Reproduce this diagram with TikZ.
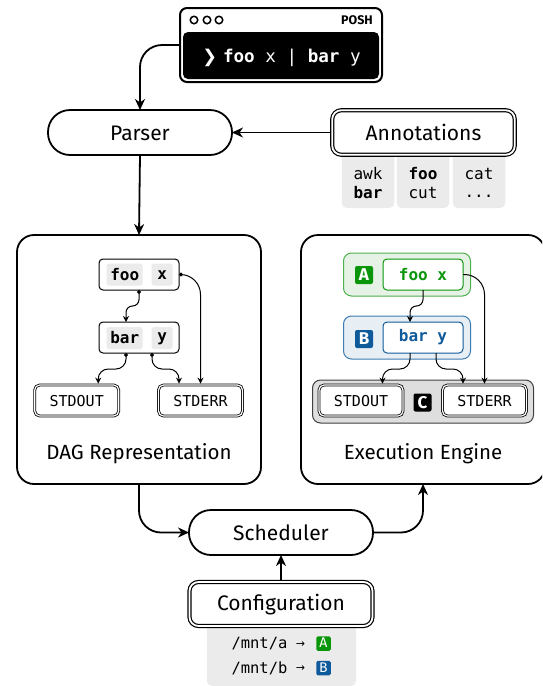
\documentclass[tikz,border=0pt]{standalone}
\usepackage{fontspec}
\setmainfont{Fira Sans}
\newfontfamily\mono{DejaVu Sans Mono}
\newfontfamily\djv{DejaVu Sans}
\usetikzlibrary{arrows.meta}
\definecolor{grn}{HTML}{0A960A}
\definecolor{grnbg}{HTML}{E6F2E6}
\definecolor{grnln}{HTML}{4DB04D}
\definecolor{blu}{HTML}{0F5A9A}
\definecolor{blubg}{HTML}{E7EEF4}
\definecolor{bluln}{HTML}{3F7DB0}
\definecolor{cell}{HTML}{EBEBEB}
\definecolor{groupc}{HTML}{DEDEDE}
\newcommand{\fs}[1]{\fontsize{#1}{#1}\selectfont}
\tikzset{
  x=1pt,y=-1pt,
  inset/.style={inner sep=0pt,outer sep=0pt,align=center},
  base/.style={inset,execute at begin node={\rule{0pt}{.82em}}},
  capbase/.style={inset,execute at begin node={\rule[-.06em]{0pt}{.74em}}},
  pill/.style={base,draw,line width=1.8pt,rounded corners=22pt,fill=white,font=\fs{21}},
  dbl/.style={base,draw,double,line width=1.2pt,double distance=1.8pt,rounded corners=9pt,fill=white,font=\fs{21},outer sep=2.1pt},
  dblsm/.style={base,draw,double,line width=.8pt,double distance=1.2pt,rounded corners=5pt,minimum width=84pt,minimum height=31pt,font=\mono\fs{15},outer sep=1.4pt},
  panel/.style={inset,draw,line width=1.8pt,rounded corners=17pt,minimum width=244pt,minimum height=249pt,fill=white},
  cmd/.style={inset,draw,line width=1pt,rounded corners=4pt,minimum width=80pt,minimum height=31pt,fill=white},
  tok/.style={capbase,fill=cell,rounded corners=2.5pt,minimum height=22pt,font=\mono\bfseries\fs{16}},
  cellbox/.style={inset,fill=cell,rounded corners=5pt},
  celltxt/.style={capbase,font=\mono\fs{16}},
  caption/.style={base,font=\fs{20.5}},
  badge/.style={capbase,fill=#1,text=white,rounded corners=2pt,minimum width=18pt,minimum height=18pt,font=\bfseries\fs{17}},
  minibadge/.style={capbase,fill=#1,text=white,rounded corners=1.5pt,minimum width=14.5pt,minimum height=14.5pt,font=\fs{14}},
  bighead/.style={-{Stealth[length=11pt,width=10pt,inset=3.5pt]},line width=1.8pt},
  smallhead/.style={-{Stealth[length=6pt,width=6pt,inset=2pt]},line width=1pt},
  porthead/.style={{Circle[length=3.8pt,width=3.8pt]}-{Stealth[length=6pt,width=6pt,inset=2pt]},line width=1pt},
}
\begin{document}
\begin{tikzpicture}
\useasboundingbox (0,0) rectangle (542,686);
% terminal
\node[inset,draw,line width=2pt,rounded corners=7pt,minimum width=202pt,minimum height=74pt,fill=white] (term) at (281,45) {};
\node[inset,fill=black,rounded corners=5pt,minimum width=196pt,minimum height=47pt] (screen) at (281,55.5) {};
\node[capbase,text=white,font=\mono\fs{17.6}] (cmdline) at (281.5,57.5) {{\djv\bfseries ❯}\hspace{6pt}{\bfseries foo} x | {\bfseries bar} y};
\node[inset,draw,line width=1.5pt,circle,minimum size=7.5pt] (c1) at (194,20) {};
\node[inset,draw,line width=1.5pt,circle,minimum size=7.5pt] (c2) at (207,20) {};
\node[inset,draw,line width=1.5pt,circle,minimum size=7.5pt] (c3) at (219,20) {};
\node[capbase,font=\bfseries\fs{12.5}] (posh) at (357,20.5) {POSH};
% parser and annotations
\node[pill,minimum width=184pt,minimum height=45pt] (parser) at (140,132.5) {Parser};
\node[cellbox,minimum width=52.5pt,minimum height=60pt] (c1box) at (368,178) {};
\node[cellbox,minimum width=52.5pt,minimum height=60pt] (c2box) at (423,178) {};
\node[cellbox,minimum width=52.5pt,minimum height=60pt] (c3box) at (479,178) {};
\node[dbl,minimum width=182.5pt,minimum height=44.5pt] (annot) at (423.5,132.5) {Annotations};
\node[celltxt] (t1) at (368,174) {awk};
\node[celltxt,font=\mono\bfseries\fs{16}] (t2) at (368,193) {bar};
\node[celltxt,font=\mono\bfseries\fs{16}] (t3) at (423,174) {foo};
\node[celltxt] (t4) at (423,193) {cut};
\node[celltxt] (t5) at (479,174) {cat};
\node[celltxt] (t6) at (479,193) {...};
% DAG panel
\node[panel] (dag) at (139,359.5) {};
\node[cmd] (fx) at (139,274.5) {};
\node[tok,minimum width=36pt] (foo) at (124.7,274.5) {foo};
\node[tok,minimum width=21pt] (xarg) at (162.2,274.5) {x};
\node[cmd] (by) at (139,337.5) {};
\node[tok,minimum width=36pt] (bar) at (124.7,338) {bar};
\node[tok,minimum width=21pt] (yarg) at (162.2,338) {y};
\node[dblsm] (out1) at (76.7,400.5) {STDOUT};
\node[dblsm] (err1) at (200.5,400.5) {STDERR};
\node[caption] (cap1) at (139,453) {DAG Representation};
\draw[porthead,rounded corners=6.5pt] (fx.south) -- ++(0,16) -| ([xshift=-13pt]by.north);
\draw[porthead,rounded corners=10pt] ([xshift=-13pt]by.south) -- ++(0,16) -| ([xshift=21.5pt]out1.north);
\draw[porthead,rounded corners=10pt] ([xshift=13pt]by.south) -- ++(0,16) -| ([xshift=-21.5pt]err1.north);
\draw[porthead,rounded corners=20pt] (fx.east) -| (err1.north);
% Execution panel
\begin{scope}
\clip (290,225) rectangle (542,495);
\node[panel] (exec) at (423,359.5) {};
\end{scope}
\node[inset,draw=grnln,fill=grnbg,line width=1pt,rounded corners=8pt,minimum width=127pt,minimum height=43pt] (agrp) at (407,274.5) {};
\node[inset,draw=bluln,fill=blubg,line width=1pt,rounded corners=8pt,minimum width=127pt,minimum height=43pt] (bgrp) at (407,337.5) {};
\node[inset,draw=black!75,fill=groupc,line width=1pt,rounded corners=8pt,minimum width=221pt,minimum height=43pt] (cgrp) at (423,401.5) {};
\node[badge=grn] (ba) at (364,275) {A};
\node[badge=blu] (bb) at (364,339) {B};
\node[badge=black] (bc) at (422.5,402.5) {C};
\node[capbase,draw=grn,fill=white,line width=1pt,rounded corners=4pt,minimum width=80pt,minimum height=31pt,text=grn,font=\mono\bfseries\fs{16}] (afx) at (423,274.5) {foo x};
\node[capbase,draw=blu,fill=white,line width=1pt,rounded corners=4pt,minimum width=80pt,minimum height=31pt,text=blu,font=\mono\bfseries\fs{16}] (bby) at (423,337.5) {bar y};
\node[dblsm,fill=white] (out2) at (361,400.5) {STDOUT};
\node[dblsm,fill=white] (err2) at (484.5,400.5) {STDERR};
\node[caption] (cap2) at (423,453) {Execution Engine};
\draw[smallhead,rounded corners=6.5pt] (afx.south) -- ++(0,16) -| ([xshift=-13pt]bby.north);
\draw[smallhead,rounded corners=10pt] ([xshift=-13pt]bby.south) -- ++(0,16) -| ([xshift=21.5pt]out2.north);
\draw[smallhead,rounded corners=10pt] ([xshift=13pt]bby.south) -- ++(0,16) -| ([xshift=-21.5pt]err2.north);
\draw[smallhead,rounded corners=20pt] (afx.east) -| (err2.north);
% scheduler and configuration
\node[pill,minimum width=184pt,minimum height=45pt] (sched) at (281,532.5) {Scheduler};
\node[cellbox,minimum width=149pt,minimum height=66pt] (cfgbox) at (281.5,653) {};
\node[dbl,minimum width=183pt,minimum height=44pt] (config) at (281,604) {Configuration};
\node[celltxt,font=\mono\fs{15.5}] (m1) at (259.5,644) {/mnt/a};
\node[celltxt,font=\mono\fs{15.5}] (m2) at (259.5,668) {/mnt/b};
\node[capbase,font=\djv\fs{11}] (ar1) at (300.5,644) {→};
\node[capbase,font=\djv\fs{11}] (ar2) at (300.5,668) {→};
\node[minibadge=grn] (ma) at (323.5,643.5) {A};
\node[minibadge=blu] (mb) at (323.5,668) {B};
% main connectors
\draw[bighead,rounded corners=22pt] (term.west) -| (parser.north);
\draw[bighead] (annot.west) -- (parser.east);
\draw[bighead] (parser.south) -- (dag.north);
\draw[bighead,rounded corners=22pt] (dag.south) |- (sched.west);
\draw[bighead,rounded corners=22pt] (sched.east) -| (exec.south);
\draw[bighead] (config.north) -- (sched.south);
\end{tikzpicture}
\end{document}
